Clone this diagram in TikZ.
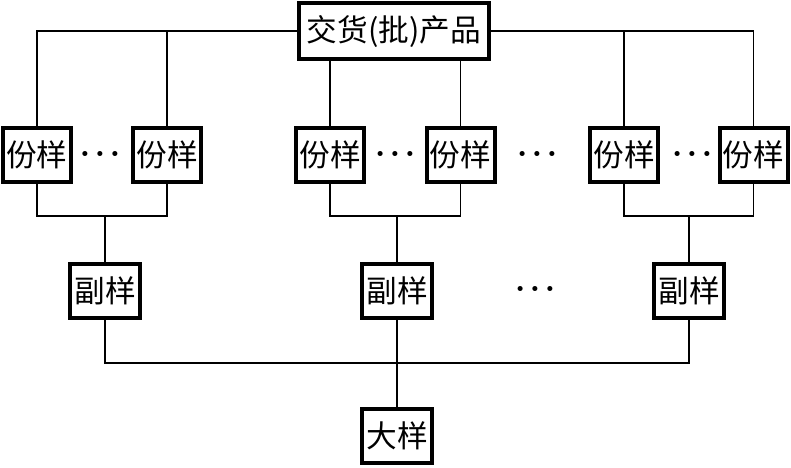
\documentclass[tikz,border=0pt]{standalone}
\usepackage{fontspec}
\newfontfamily\cjk{Noto Sans CJK SC}
\newcommand{\threedots}{\textbullet\hspace{0.5pt}\textbullet\hspace{0.5pt}\textbullet}
\begin{document}
\begin{tikzpicture}[x=0.75pt,y=-0.75pt,
  box/.style={draw=black,line width=3pt,fill=white,inner sep=0pt,
    minimum width=51pt,minimum height=40pt,font=\cjk\fontsize{23}{26}\selectfont},
  link/.style={draw=black,line width=0.8pt},
  dotsn/.style={inner sep=0pt,font=\fontsize{14}{14}\selectfont}]
\useasboundingbox (0,0) rectangle (791,467);
% nodes
\node[box,minimum width=142pt,minimum height=42pt] (top) at (394,31) {交货(批)产品};
\node[box] (a1) at (37,155) {份样};
\node[box] (a2) at (167,155) {份样};
\node[box] (a3) at (330,155) {份样};
\node[box] (a4) at (460.5,155) {份样};
\node[box] (a5) at (624,155) {份样};
\node[box] (a6) at (753.5,155) {份样};
\node[box,minimum width=53pt] (b1) at (105,291) {副样};
\node[box,minimum width=53pt] (b2) at (397,291) {副样};
\node[box,minimum width=53pt] (b3) at (689,291) {副样};
\node[box,minimum width=52pt] (c) at (397,436) {大样};
% dots
\node[dotsn] (d1) at (100,155) {\threedots};
\node[dotsn] (d2) at (395,155) {\threedots};
\node[dotsn] (d3) at (537,155) {\threedots};
\node[dotsn] (d4) at (692,155) {\threedots};
\node[dotsn] (d5) at (535,290) {\threedots};
% junctions
\coordinate (j1) at (105,216);
\coordinate (j2) at (397,216);
\coordinate (j3) at (689,216);
\coordinate (j4) at (397,363);
% top connectors
\draw[link] (a1.north) |- (top.west);
\draw[link] (a2.north) -- (a2.north |- top.west);
\draw[link] (a6.north) |- (top.east);
\draw[link] (a5.north) -- (a5.north |- top.east);
\draw[link] (a3.north) -- (a3.north |- top.south);
\draw[link] (a4.north) -- (a4.north |- top.south);
% lower brackets
\draw[link] (a1.south) |- (j1) -| (a2.south);
\draw[link] (j1) -- (b1.north);
\draw[link] (a3.south) |- (j2) -| (a4.south);
\draw[link] (j2) -- (b2.north);
\draw[link] (a5.south) |- (j3) -| (a6.south);
\draw[link] (j3) -- (b3.north);
\draw[link] (b1.south) |- (j4) -| (b3.south);
\draw[link] (b2.south) -- (j4);
\draw[link] (j4) -- (c.north);
\end{tikzpicture}
\end{document}
